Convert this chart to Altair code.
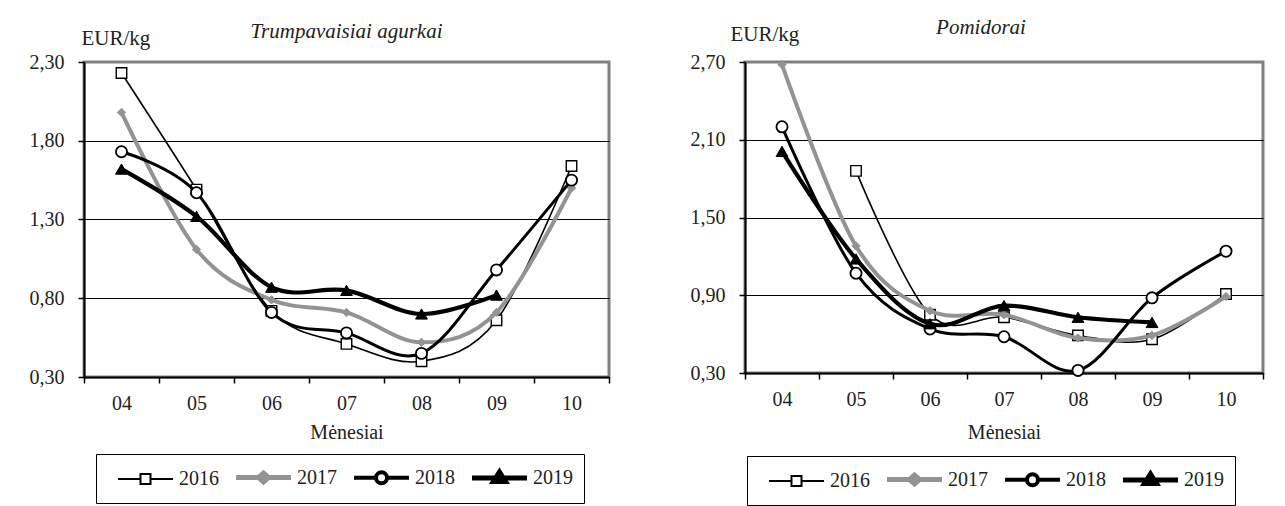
import altair as alt
import pandas as pd

FONT = "'Liberation Serif', 'Times New Roman', Times, serif"
GRAY = "#939393"
TXT = "#222222"

months = ["04", "05", "06", "07", "08", "09", "10"]
years = ["2016", "2017", "2018", "2019"]

# Trumpavaisiai agurkai (EUR/kg)
cuc_2016 = [2.23, 1.49, 0.72, 0.51, 0.40, 0.66, 1.64]
cuc_2017 = [1.98, 1.11, 0.79, 0.71, 0.52, 0.71, 1.50]
cuc_2018 = [1.73, 1.47, 0.71, 0.58, 0.45, 0.98, 1.55]
cuc_2019 = [1.62, 1.32, 0.87, 0.85, 0.70, 0.82, None]

# Pomidorai (EUR/kg)
tom_2016 = [None, 1.86, 0.75, 0.73, 0.59, 0.56, 0.91]
tom_2017 = [2.68, 1.28, 0.78, 0.75, 0.57, 0.59, 0.89]
tom_2018 = [2.20, 1.07, 0.64, 0.58, 0.32, 0.88, 1.24]
tom_2019 = [2.01, 1.18, 0.68, 0.82, 0.73, 0.69, None]

cuc_ticks = [0.30, 0.80, 1.30, 1.80, 2.30]
tom_ticks = [0.30, 0.90, 1.50, 2.10, 2.70]

# styles per year
line_color = {"2016": "black", "2017": GRAY, "2018": "black", "2019": "black"}
line_width = {"2016": 1.6, "2017": 4, "2018": 3, "2019": 4.2}
pt_shape = {"2016": "square", "2017": "diamond", "2018": "circle", "2019": "triangle-up"}
pt_fill = {"2016": "white", "2017": GRAY, "2018": "white", "2019": "black"}
pt_stroke = {"2016": "black", "2017": GRAY, "2018": "black", "2019": "black"}
pt_size = {"2016": 110, "2017": 70, "2018": 125, "2019": 140}
pt_sw = {"2016": 1.4, "2017": 1, "2018": 1.8, "2019": 1}

leg_paths = [
    "M-2.75,0H-0.5M0.5,0H2.75M-0.5,-0.5H0.5V0.5H-0.5Z",
    "M-2.75,0H2.75M0,-0.45L0.5,0L0,0.45L-0.5,0Z",
    "M-2.75,0H-0.55M0.55,0H2.75M0.55,0A0.55,0.55,0,1,1,-0.55,0A0.55,0.55,0,1,1,0.55,0Z",
    "M-2.75,0H2.75M0,-0.6L0.6,0.35L-0.6,0.35Z",
]
leg_fill = ["white", GRAY, "white", "black"]
leg_stroke = ["black", GRAY, "black", "black"]
leg_sw = [2, 5, 4, 5]


def long_df(series):
    rows = []
    for yr, vals in zip(years, series):
        for m, v in zip(months, vals):
            if v is not None:
                rows.append({"month": m, "year": yr, "price": v})
    return pd.DataFrame(rows)


def panel(series, ticks, title, title_dx, w, h, ytx, yty, xty, lx, ly):
    df = long_df(series)
    dmax = ticks[-1]
    x = alt.X(
        "month:N",
        scale=alt.Scale(type="band", domain=months, paddingInner=0, paddingOuter=0),
        axis=alt.Axis(
            title="Mėnesiai", labelAngle=0, tickBand="extent", grid=False,
            domainColor="black", domainWidth=2, tickColor="black", tickWidth=1.5,
            tickSize=6, labelPadding=10, labelFont=FONT, labelFontSize=20,
            labelColor=TXT, titleFont=FONT, titleFontSize=20, titleFontWeight="normal",
            titleColor=TXT, titleY=xty, titleBaseline="alphabetic",
        ),
    )
    y = alt.Y(
        "price:Q",
        scale=alt.Scale(domain=[0.3, dmax], nice=False, zero=False),
        axis=alt.Axis(
            values=ticks,
            labelExpr="replace(format(datum.value, '.2f'), '.', ',')",
            grid=True, gridWidth=1,
            gridColor={"condition": {"test": f"datum.value >= {dmax - 0.001}", "value": "transparent"}, "value": "black"},
            domainColor="black", domainWidth=2, tickColor="black", tickWidth=1.5,
            tickSize=6, labelPadding=14, labelFont=FONT, labelFontSize=20, labelColor=TXT,
            title="EUR/kg", titleAngle=0, titleAlign="left", titleBaseline="alphabetic",
            titleX=ytx, titleY=yty, titleFont=FONT, titleFontSize=21,
            titleFontWeight="normal", titleColor=TXT,
        ),
    )
    base = alt.Chart(df).encode(x=x, y=y)
    layers = []
    for yr in years:
        layers.append(
            base.transform_filter(alt.datum.year == yr).mark_line(
                color=line_color[yr], strokeWidth=line_width[yr], interpolate="cardinal"
            )
        )
        layers.append(
            base.transform_filter(alt.datum.year == yr).mark_point(
                shape=pt_shape[yr], filled=True, fill=pt_fill[yr], stroke=pt_stroke[yr],
                size=pt_size[yr], strokeWidth=pt_sw[yr], opacity=1
            )
        )
    leg = alt.Legend(
        title=None, orient="none", legendX=lx, legendY=ly, direction="horizontal",
        columns=4, symbolSize=400, symbolOffset=26, labelOffset=21,
        columnPadding=6, padding=11, strokeColor="black",
        labelFont=FONT, labelFontSize=20, labelColor=TXT,
    )
    leg_df = pd.DataFrame({"year": years, "month": ["04"] * 4, "price": [None] * 4})
    legend_layer = alt.Chart(leg_df).mark_point(filled=True, opacity=1, invalid="filter").encode(
        x=x, y=y,
        shape=alt.Shape("year:N", scale=alt.Scale(domain=years, range=leg_paths), legend=leg),
        fill=alt.Fill("year:N", scale=alt.Scale(domain=years, range=leg_fill), legend=leg),
        stroke=alt.Stroke("year:N", scale=alt.Scale(domain=years, range=leg_stroke), legend=leg),
        strokeWidth=alt.StrokeWidth("year:N", scale=alt.Scale(type="ordinal", domain=years, range=leg_sw), legend=leg),
    )
    layers.append(legend_layer)
    return alt.layer(*layers).properties(
        width=w, height=h,
        title=alt.TitleParams(
            title, font=FONT, fontSize=21, fontStyle="italic", fontWeight="normal",
            color=TXT, anchor="middle", frame="group", offset=-15, dx=title_dx,
        ),
    )


left = panel([cuc_2016, cuc_2017, cuc_2018, cuc_2019], cuc_ticks,
             "Trumpavaisiai agurkai", 0, 525, 315, -3, -18, 61, 12, 392)
right = panel([tom_2016, tom_2017, tom_2018, tom_2019], tom_ticks,
              "Pomidorai", -23, 518, 311, -15, -22, 65, 2, 394)

chart = alt.hconcat(left, right, spacing=76).resolve_scale(
    x="independent", y="independent", shape="independent", fill="independent",
    stroke="independent", strokeWidth="independent",
).resolve_legend(
    shape="independent", fill="independent", stroke="independent", strokeWidth="independent",
).resolve_axis(x="independent", y="independent").properties(
    padding={"left": 19, "top": 7, "right": 0, "bottom": 0},
    background="white",
).configure_view(stroke="#808080", strokeWidth=3)

chart.save("out.html", embed_options={"renderer": "svg", "actions": False})
